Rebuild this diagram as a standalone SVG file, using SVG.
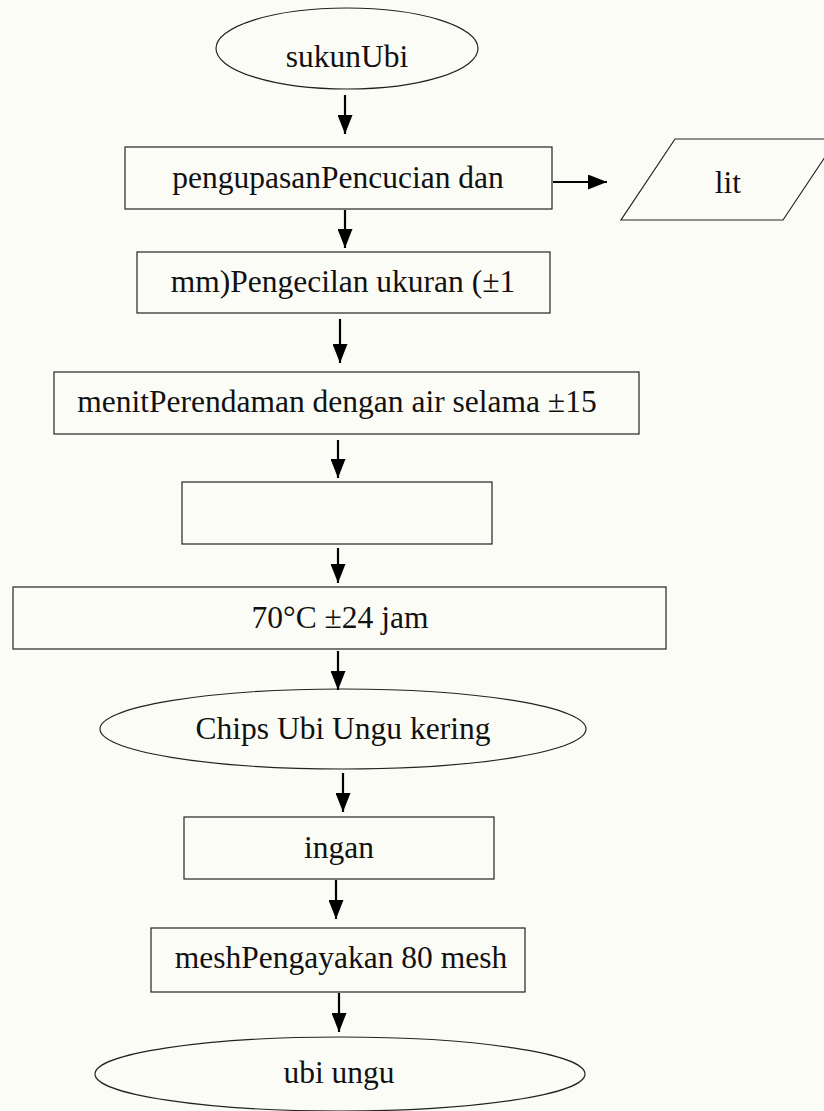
<svg xmlns="http://www.w3.org/2000/svg" width="824" height="1111" viewBox="0 0 824 1111">
<defs>
<style>
.shape{fill:none;stroke:#222;stroke-width:1.2}
.lbl{font-family:"Liberation Serif","Times New Roman",serif;font-size:31.5px;fill:#111;text-anchor:middle}
.conn{stroke:#000;stroke-width:2.2;fill:none}
</style>
<marker id="ah" markerUnits="userSpaceOnUse" markerWidth="19" markerHeight="15" viewBox="0 0 19 15" refX="19" refY="7.5" orient="auto">
<path d="M0,0 L19,7.5 L0,15 Z" fill="#000"/>
</marker>
</defs>
<rect width="824" height="1111" fill="#fcfcf7"/>
<g id="n1"><ellipse class="shape" cx="347" cy="48.5" rx="131" ry="40.5"/><text class="lbl" x="347" y="67">sukunUbi</text></g>
<g id="n2"><rect class="shape" x="125" y="147" width="427" height="62"/><text class="lbl" x="338" y="188">pengupasanPencucian dan</text></g>
<g id="n3"><polygon class="shape" points="675,139 837,139 783,220 621,220"/><text class="lbl" x="728" y="193">lit</text></g>
<g id="n4"><rect class="shape" x="137" y="252" width="413" height="61"/><text class="lbl" x="343" y="292">mm)Pengecilan ukuran (±1</text></g>
<g id="n5"><rect class="shape" x="54" y="372" width="585" height="62"/><text class="lbl" x="337" y="412">menitPerendaman dengan air selama ±15</text></g>
<g id="n6"><rect class="shape" x="182" y="482" width="310" height="62"/></g>
<g id="n7"><rect class="shape" x="13" y="587" width="653" height="62"/><text class="lbl" x="340" y="628">70°C ±24 jam</text></g>
<g id="n8"><ellipse class="shape" cx="343" cy="729" rx="243" ry="40"/><text class="lbl" x="343" y="739">Chips Ubi Ungu kering</text></g>
<g id="n9"><rect class="shape" x="184" y="817" width="310" height="62"/><text class="lbl" x="339" y="858">ingan</text></g>
<g id="n10"><rect class="shape" x="151" y="928" width="374" height="64"/><text class="lbl" x="341" y="968">meshPengayakan 80 mesh</text></g>
<g id="n11"><ellipse class="shape" cx="340" cy="1074" rx="245" ry="37"/><text class="lbl" x="339" y="1083">ubi ungu</text></g>
<g id="connectors">
<line class="conn" x1="345" y1="95" x2="345" y2="134" marker-end="url(#ah)"/>
<line class="conn" x1="553" y1="182" x2="607" y2="182" marker-end="url(#ah)"/>
<line class="conn" x1="345" y1="210" x2="345" y2="248" marker-end="url(#ah)"/>
<line class="conn" x1="340" y1="319" x2="340" y2="363" marker-end="url(#ah)"/>
<line class="conn" x1="338" y1="440" x2="338" y2="478" marker-end="url(#ah)"/>
<line class="conn" x1="338" y1="548" x2="338" y2="583" marker-end="url(#ah)"/>
<line class="conn" x1="338" y1="651" x2="338" y2="690" marker-end="url(#ah)"/>
<line class="conn" x1="343" y1="773" x2="343" y2="812" marker-end="url(#ah)"/>
<line class="conn" x1="336" y1="880" x2="336" y2="919" marker-end="url(#ah)"/>
<line class="conn" x1="339" y1="993" x2="339" y2="1032" marker-end="url(#ah)"/>
</g>
</svg>
